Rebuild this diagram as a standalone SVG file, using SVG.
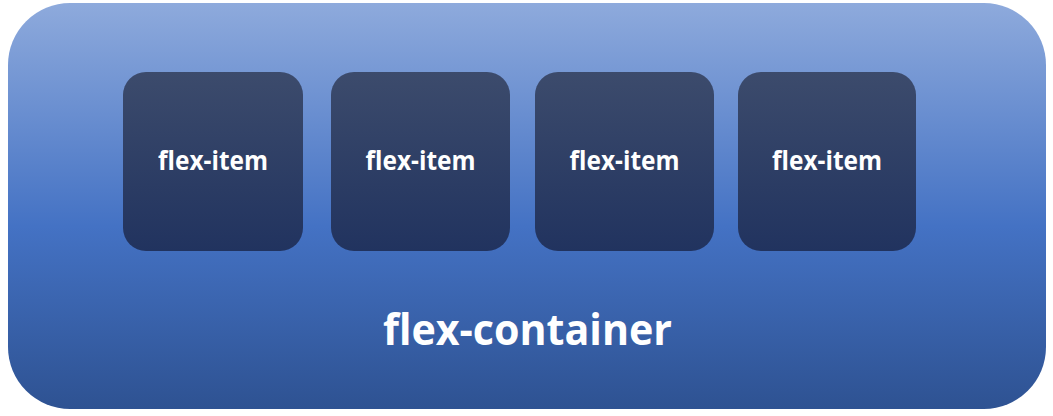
<svg xmlns="http://www.w3.org/2000/svg" width="1053" height="416" viewBox="0 0 1053 416">
<defs>
<linearGradient id="gc" x1="0" y1="0" x2="0" y2="1">
<stop offset="0" stop-color="#8eaadc"/>
<stop offset="0.55" stop-color="#4472c4"/>
<stop offset="1" stop-color="#2e5292"/>
</linearGradient>
<linearGradient id="gi" x1="0" y1="0" x2="0" y2="1">
<stop offset="0" stop-color="#3c4b6c"/>
<stop offset="1" stop-color="#21335f"/>
</linearGradient>
</defs>
<style>
.item{fill:url(#gi)}
.lbl{fill:#ffffff;font-family:"Open Sans","Noto Sans",sans-serif;font-weight:bold;text-anchor:middle}
.il{font-size:27px}
.cl{font-size:43px}
</style>
<rect width="1053" height="416" fill="#ffffff"/>
<g id="flex-container">
<rect x="8" y="3" width="1038" height="406" rx="62" ry="62" fill="url(#gc)"/>
<text class="lbl cl" x="527.5" y="345" textLength="289" lengthAdjust="spacingAndGlyphs">flex-container</text>
</g>
<g id="item1">
<rect class="item" x="123" y="72" width="180" height="179" rx="23"/>
<text class="lbl il" x="213" y="170" textLength="110" lengthAdjust="spacingAndGlyphs">flex-item</text>
</g>
<g id="item2">
<rect class="item" x="331" y="72" width="179" height="179" rx="23"/>
<text class="lbl il" x="420.5" y="170" textLength="110" lengthAdjust="spacingAndGlyphs">flex-item</text>
</g>
<g id="item3">
<rect class="item" x="535" y="72" width="179" height="179" rx="23"/>
<text class="lbl il" x="624.5" y="170" textLength="110" lengthAdjust="spacingAndGlyphs">flex-item</text>
</g>
<g id="item4">
<rect class="item" x="738" y="72" width="178" height="179" rx="23"/>
<text class="lbl il" x="827" y="170" textLength="110" lengthAdjust="spacingAndGlyphs">flex-item</text>
</g>
<g id="connectors"/>
</svg>
